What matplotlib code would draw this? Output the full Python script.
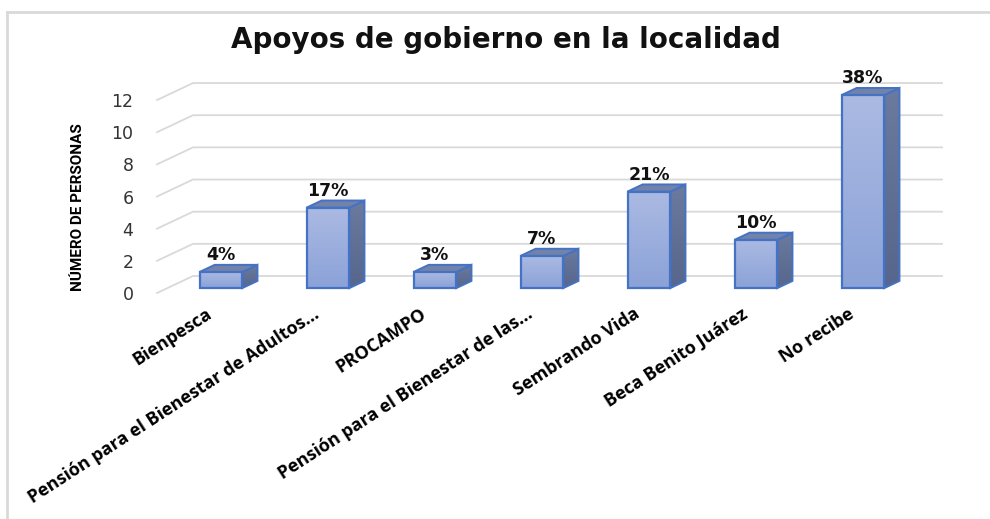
import numpy as np
import matplotlib.pyplot as plt
from matplotlib.patches import Polygon
from matplotlib.colors import LinearSegmentedColormap
from matplotlib.lines import Line2D

# data
categorias = ["Bienpesca", "Pensión para el Bienestar de Adultos...", "PROCAMPO",
              "Pensión para el Bienestar de las...", "Sembrando Vida",
              "Beca Benito Juárez", "No recibe"]
personas = [1, 5, 1, 2, 6, 3, 12]
porcentajes = ["4%", "17%", "3%", "7%", "21%", "10%", "38%"]
y_ticks = [0, 2, 4, 6, 8, 10, 12]

W, H = 990, 519
fig = plt.figure(figsize=(W / 100, H / 100), dpi=100)

# layout in pixels (front floor edge of the fake 3D box)
px_left, px_right = 157, 942
px_floor = 293
px_per_unit = 16.08
y_max = 13.6

# oblique depth vector, in data units
DX = 36 / 107
DY = 17 / px_per_unit
d0, d1 = 0.29, 0.71      # bars sit in the middle of the depth
bw = 0.40

ax = fig.add_axes([px_left / W, 1 - px_floor / H,
                   (px_right - px_left) / W, y_max * px_per_unit / H])

# gridlines on floor edge + back wall
n = len(categorias)
for v in y_ticks:
    ax.plot([-0.5, -0.5 + DX, n - 0.5 + DX], [v, v + DY, v + DY],
            color="#d9d9d9", lw=1.3, zorder=1, clip_on=False)

front_cmap = LinearSegmentedColormap.from_list("front", ["#8ba2d8", "#abbae2"])
side_cmap = LinearSegmentedColormap.from_list("side", ["#56668c", "#6b7a9e"])
grad = np.linspace(0, 1, 256).reshape(-1, 1)
edge = "#4472c4"

ddx = (d1 - d0) * DX
ddy = (d1 - d0) * DY
for i, v in enumerate(personas):
    x0 = i - bw / 2 + d0 * DX
    x1 = x0 + bw
    yb = d0 * DY
    yt = v + d0 * DY

    # side face
    side = Polygon([(x1, yb), (x1 + ddx, yb + ddy), (x1 + ddx, yt + ddy), (x1, yt)],
                   closed=True, facecolor="none", edgecolor=edge, lw=1.4, zorder=4)
    ax.add_patch(side)
    im = ax.imshow(grad, extent=[x1, x1 + ddx, yb, yt + ddy], origin="lower",
                   cmap=side_cmap, aspect="auto", zorder=3)
    im.set_clip_path(side)

    # top face
    ax.add_patch(Polygon([(x0, yt), (x0 + ddx, yt + ddy), (x1 + ddx, yt + ddy), (x1, yt)],
                         closed=True, facecolor="#7282a8", edgecolor=edge, lw=1.4, zorder=4))

    # front face
    ax.imshow(grad, extent=[x0, x1, yb, yt], origin="lower", cmap=front_cmap,
              aspect="auto", zorder=5)
    ax.add_patch(Polygon([(x0, yb), (x1, yb), (x1, yt), (x0, yt)], closed=True,
                         facecolor="none", edgecolor=edge, lw=1.6, zorder=6))

    ax.annotate(porcentajes[i], (i + d0 * DX, v + d1 * DY), xytext=(0, 7),
                textcoords="offset points", ha="center", va="center",
                fontsize=12.5, fontweight="bold", color="#111111")

ax.set_xlim(-0.5, n - 0.5 + DX)
ax.set_ylim(0, y_max)
for s in ax.spines.values():
    s.set_visible(False)

ax.set_yticks(y_ticks)
ax.set_yticklabels([str(t) for t in y_ticks], fontsize=12.5, color="#333333")
ax.tick_params(axis="y", length=0, pad=17)

ax.set_xticks(range(n))
ax.set_xticklabels(categorias, rotation=33, ha="right", va="center",
                   rotation_mode="anchor", fontsize=13, fontweight="bold",
                   family=["Open Sans", "DejaVu Sans"])
ax.tick_params(axis="x", length=0, pad=14)

fig.text(506 / W, 1 - 40 / H, "Apoyos de gobierno en la localidad", ha="center",
         va="center", fontsize=20, fontweight="bold", color="#111111")
fig.text(78 / W, 1 - 207 / H, "NÚMERO DE PERSONAS", rotation=90, ha="center",
         va="center", fontsize=11, fontweight="bold",
         family=["Roboto", "DejaVu Sans"])

# chart area border (cut at right and bottom)
fig.add_artist(Line2D([7 / W, 7 / W], [0, 1 - 12 / H], color="#d9d9d9", lw=2))
fig.add_artist(Line2D([7 / W, 1], [1 - 12 / H, 1 - 12 / H], color="#d9d9d9", lw=2))

fig.savefig("out.png", dpi=100)
